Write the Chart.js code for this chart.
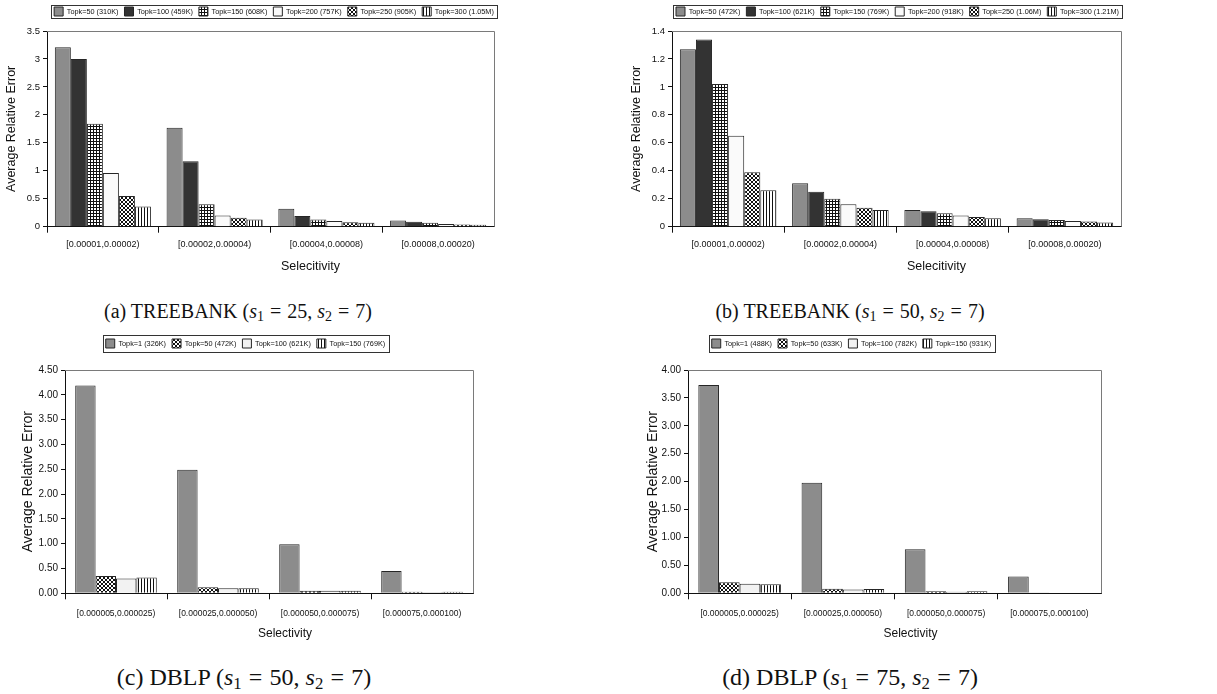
<!DOCTYPE html>
<html>
<head>
<meta charset="utf-8">
<script src="https://cdn.jsdelivr.net/npm/chart.js@4.4.0/dist/chart.umd.min.js"></script>
<style>
    body { margin: 0; background: #fff; width: 1217px; height: 694px; position: relative; overflow: hidden; }
    canvas { position: absolute; }
    .cap { position: absolute; transform: translate(-50%, -50%); white-space: nowrap;
           font-family: "Liberation Serif", "Times New Roman", serif; font-size: 20px; color: #111; }
    .cap.big { font-size: 24px; }
    .cap sub { font-size: 70%; vertical-align: -0.25em; line-height: 0; }
    .cap .eq { margin: 0 0.3em; }
</style>
</head>
<body>
<canvas id="chartA" width="548" height="280" style="left:0;top:0"></canvas>
<canvas id="chartB" width="575" height="280" style="left:610px;top:0"></canvas>
<canvas id="chartC" width="491" height="315" style="left:0;top:330px"></canvas>
<canvas id="chartD" width="523" height="315" style="left:590px;top:330px"></canvas>

<div class="cap" style="left:238px;top:311px">(a) TREEBANK (<i>s</i><sub>1</sub><span class="eq">=</span>25, <i>s</i><sub>2</sub><span class="eq">=</span>7)</div>
<div class="cap" style="left:850px;top:311px">(b) TREEBANK (<i>s</i><sub>1</sub><span class="eq">=</span>50, <i>s</i><sub>2</sub><span class="eq">=</span>7)</div>
<div class="cap big" style="left:244px;top:677px">(c) DBLP (<i>s</i><sub>1</sub><span class="eq">=</span>50, <i>s</i><sub>2</sub><span class="eq">=</span>7)</div>
<div class="cap big" style="left:850px;top:677px">(d) DBLP (<i>s</i><sub>1</sub><span class="eq">=</span>75, <i>s</i><sub>2</sub><span class="eq">=</span>7)</div>

<script>
// selectivity bins
const treebankBins = ['[0.00001,0.00002)', '[0.00002,0.00004)', '[0.00004,0.00008)', '[0.00008,0.00020)'];
const dblpBins = ['[0.000005,0.000025)', '[0.000025,0.000050)', '[0.000050,0.000075)', '[0.000075,0.000100)'];

// (a) TREEBANK s1=25
const namesA = ['Topk=50 (310K)', 'Topk=100 (459K)', 'Topk=150 (608K)', 'Topk=200 (757K)', 'Topk=250 (905K)', 'Topk=300 (1.05M)'];
const a50  = [3.21, 1.77, 0.32, 0.11];
const a100 = [3.00, 1.17, 0.19, 0.09];
const a150 = [1.84, 0.40, 0.13, 0.07];
const a200 = [0.96, 0.20, 0.10, 0.05];
const a250 = [0.55, 0.16, 0.08, 0.04];
const a300 = [0.36, 0.13, 0.07, 0.035];
const ticksA = ['0', '0.5', '1', '1.5', '2', '2.5', '3', '3.5'];

// (b) TREEBANK s1=50
const namesB = ['Topk=50 (472K)', 'Topk=100 (621K)', 'Topk=150 (769K)', 'Topk=200 (918K)', 'Topk=250 (1.06M)', 'Topk=300 (1.21M)'];
const b50  = [1.27, 0.31, 0.12, 0.06];
const b100 = [1.34, 0.25, 0.11, 0.053];
const b150 = [1.02, 0.20, 0.096, 0.048];
const b200 = [0.65, 0.16, 0.08, 0.04];
const b250 = [0.39, 0.135, 0.07, 0.037];
const b300 = [0.26, 0.12, 0.06, 0.03];
const ticksB = ['0', '0.2', '0.4', '0.6', '0.8', '1', '1.2', '1.4'];

// (c) DBLP s1=50
const namesC = ['Topk=1 (326K)', 'Topk=50 (472K)', 'Topk=100 (621K)', 'Topk=150 (769K)'];
const c1   = [4.19, 2.49, 0.99, 0.45];
const c50  = [0.35, 0.12, 0.05, 0.03];
const c100 = [0.30, 0.10, 0.05, 0.02];
const c150 = [0.32, 0.10, 0.05, 0.03];
const ticksC = ['0.00', '0.50', '1.00', '1.50', '2.00', '2.50', '3.00', '3.50', '4.00', '4.50'];

// (d) DBLP s1=75
const namesD = ['Topk=1 (488K)', 'Topk=50 (633K)', 'Topk=100 (782K)', 'Topk=150 (931K)'];
const d1   = [3.73, 1.98, 0.79, 0.30];
const d50  = [0.20, 0.08, 0.035, 0.015];
const d100 = [0.17, 0.07, 0.03, 0.01];
const d150 = [0.16, 0.075, 0.035, 0.01];
const ticksD = ['0.00', '0.50', '1.00', '1.50', '2.00', '2.50', '3.00', '3.50', '4.00'];

const FONT = '"Liberation Sans", Arial, Helvetica, sans-serif';
const INK = '#111';

function makePattern(kind) {
    const c = document.createElement('canvas');
    const g = c.getContext('2d');
    if (kind === 'grid') {
        c.width = c.height = 3;
        g.fillStyle = '#fff'; g.fillRect(0, 0, 3, 3);
        g.fillStyle = '#111'; g.fillRect(0, 0, 3, 1); g.fillRect(0, 0, 1, 3);
    } else if (kind === 'check') {
        c.width = c.height = 4;
        g.fillStyle = '#fff'; g.fillRect(0, 0, 4, 4);
        g.fillStyle = '#111';
        [[0,0],[1,1],[2,2],[3,3],[3,0],[2,1],[1,2],[0,3]].forEach(([x, y]) => g.fillRect(x, y, 1, 1));
    } else {
        c.width = 3; c.height = 1;
        g.fillStyle = '#fff'; g.fillRect(0, 0, 3, 1);
        g.fillStyle = '#111'; g.fillRect(0, 0, 1, 1);
    }
    return g.createPattern(c, 'repeat');
}

const GRAY = '#8c8c8c';
const DARK = '#333333';

// box round the legend items
const legendFrame = {
    id: 'legendFrame',
    afterDraw(chart, args, o) {
        const hb = chart.legend && chart.legend.legendHitBoxes;
        if (!hb || !hb.length) return;
        const l = Math.min(...hb.map(h => h.left)) - o.padX;
        const r = Math.max(...hb.map(h => h.left + h.width)) + o.padX;
        const t = Math.min(...hb.map(h => h.top)) - o.padY;
        const b = Math.max(...hb.map(h => h.top + h.height)) + o.padY;
        const ctx = chart.ctx;
        ctx.save();
        ctx.strokeStyle = '#333';
        ctx.lineWidth = 1;
        ctx.strokeRect(Math.round(l) + 0.5, Math.round(t) + 0.5, Math.round(r - l), Math.round(b - t));
        ctx.restore();
    }
};

// grey top and right edge of the plot area
const plotFrame = {
    id: 'plotFrame',
    beforeDatasetsDraw(chart) {
        const {ctx, chartArea: a} = chart;
        ctx.save();
        ctx.strokeStyle = '#7a7a7a';
        ctx.lineWidth = 1;
        ctx.beginPath();
        ctx.moveTo(a.left, Math.round(a.top) + 0.5);
        ctx.lineTo(Math.round(a.right) + 0.5, Math.round(a.top) + 0.5);
        ctx.lineTo(Math.round(a.right) + 0.5, a.bottom);
        ctx.stroke();
        ctx.restore();
    }
};

const xTitle = {
    id: 'xTitle',
    afterDraw(chart, args, o) {
        const {ctx, chartArea: a} = chart;
        ctx.save();
        ctx.font = o.size + 'px ' + FONT;
        ctx.fillStyle = INK;
        ctx.textAlign = 'center';
        ctx.textBaseline = 'middle';
        ctx.fillText(o.text, (a.left + a.right) / 2 + o.dx, a.bottom + o.dy);
        ctx.restore();
    }
};

function drawPanel(id, p) {
    const yTicks = p.ticks;
    new Chart(document.getElementById(id), {
        type: 'bar',
        data: {
            labels: p.cats,
            datasets: p.series.map((vals, i) => ({
                label: p.names[i],
                data: vals,
                backgroundColor: p.fills[i],
                borderColor: '#262626',
                borderWidth: 1,
                barPercentage: 1,
                categoryPercentage: p.catPct,
                xAxisID: 'x',
                yAxisID: 'y'
            }))
        },
        options: {
            responsive: false,
            animation: false,
            layout: { padding: { top: p.padTop, left: 0, right: 0, bottom: 0 } },
            plugins: {
                legend: {
                    position: 'top',
                    labels: { boxWidth: 9, boxHeight: 9, padding: 6, color: INK, font: { family: FONT, size: 7.3 } }
                },
                tooltip: { enabled: false },
                legendFrame: { padX: 3, padY: p.legendPadY },
                xTitle: { text: p.xTitle, size: p.xTitleSize, dx: p.xTitleDx, dy: p.xTitleDy }
            },
            scales: {
                x: {
                    type: 'category',
                    offset: true,
                    grid: {
                        display: true, offset: true, drawOnChartArea: false, tickLength: 6,
                        color: c => (c.tick ? INK : 'rgba(0,0,0,0)')
                    },
                    border: { color: INK, width: 1 },
                    ticks: { color: INK, font: { family: FONT, size: p.xFont }, padding: p.xPad, maxRotation: 0, autoSkip: false },
                    afterFit: s => { s.height = p.xH; }
                },
                xT: {
                    type: 'linear', position: 'top', display: true,
                    grid: { display: false }, border: { display: false }, ticks: { display: false },
                    afterFit: s => { s.height = p.topGap; }
                },
                y: {
                    type: 'linear',
                    min: 0,
                    max: parseFloat(yTicks[yTicks.length - 1]),
                    afterBuildTicks: s => { s.ticks = yTicks.map(t => ({ value: parseFloat(t) })); },
                    ticks: { color: INK, font: { family: FONT, size: p.yFont }, padding: 3, callback: (v, i) => yTicks[i] },
                    grid: { drawOnChartArea: false, tickLength: 4, color: INK },
                    border: { color: INK, width: 1 },
                    title: {
                        display: true, text: 'Average Relative Error', color: INK,
                        font: { family: FONT, size: p.yTitleSize }, padding: { top: p.yTitlePad, bottom: 0 }
                    },
                    afterFit: s => { s.width = p.yW; }
                },
                yR: {
                    type: 'linear', position: 'right', display: true,
                    grid: { display: false }, border: { display: false }, ticks: { display: false },
                    afterFit: s => { s.width = p.rightW; }
                }
            }
        },
        plugins: [legendFrame, plotFrame, xTitle]
    });
}

const fillsTree = [GRAY, DARK, makePattern('grid'), '#fafafa', makePattern('check'), makePattern('vline')];
const fillsDblp = [GRAY, makePattern('check'), '#f2f2f2', makePattern('vline')];

drawPanel('chartA', {
    cats: treebankBins, names: namesA, series: [a50, a100, a150, a200, a250, a300], ticks: ticksA,
    fills: fillsTree, catPct: 0.86, yW: 47, rightW: 54, padTop: 1, topGap: 5, xH: 53.3, xPad: 6, xFont: 9, yFont: 9.5,
    legendPadY: 2, yTitleSize: 12.5, yTitlePad: 4.5,
    xTitle: 'Selecitivity', xTitleSize: 12.5, xTitleDx: 40, xTitleDy: 40.3
});
drawPanel('chartB', {
    cats: treebankBins, names: namesB, series: [b50, b100, b150, b200, b250, b300], ticks: ticksB,
    fills: fillsTree, catPct: 0.86, yW: 62, rightW: 64, padTop: 1, topGap: 5, xH: 53.3, xPad: 6, xFont: 9, yFont: 9.5,
    legendPadY: 2, yTitleSize: 12.5, yTitlePad: 19.5,
    xTitle: 'Selecitivity', xTitleSize: 12.5, xTitleDx: 40, xTitleDy: 40.3
});
drawPanel('chartC', {
    cats: dblpBins, names: namesC, series: [c1, c50, c100, c150], ticks: ticksC,
    fills: fillsDblp, catPct: 0.80, yW: 65, rightW: 18, padTop: 3, topGap: 12, xH: 51.7, xPad: 9, xFont: 8.5, yFont: 10,
    legendPadY: 4, yTitleSize: 14, yTitlePad: 19.6,
    xTitle: 'Selectivity', xTitleSize: 12, xTitleDx: 16, xTitleDy: 40.7
});
drawPanel('chartD', {
    cats: dblpBins, names: namesD, series: [d1, d50, d100, d150], ticks: ticksD,
    fills: fillsDblp, catPct: 0.80, yW: 98, rightW: 12, padTop: 3, topGap: 12, xH: 51.7, xPad: 9, xFont: 8.5, yFont: 10,
    legendPadY: 4, yTitleSize: 14, yTitlePad: 54.6,
    xTitle: 'Selectivity', xTitleSize: 12, xTitleDx: 16, xTitleDy: 40.7
});
</script>
</body>
</html>
